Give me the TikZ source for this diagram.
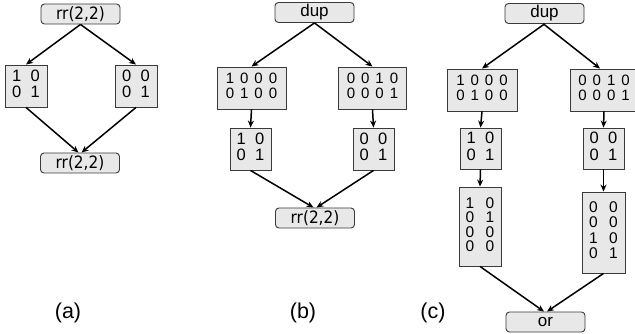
\documentclass[tikz,border=0pt]{standalone}
\usepackage{fontspec}
\setmainfont{Liberation Sans}
\newfontfamily\opfont{DejaVu Sans Condensed}
\usetikzlibrary{arrows.meta}
\definecolor{boxfill}{HTML}{E8E8E8}
\definecolor{boxline}{HTML}{3A3A3A}
\tikzset{
  opnode/.style={draw=boxline, line width=0.9pt, rounded corners=3.5pt, fill=boxfill,
    minimum width=79pt, minimum height=20pt, inner sep=0pt, font=\fontsize{17}{17}\selectfont},
  matnode/.style={draw=boxline, line width=0.9pt, fill=boxfill, inner sep=0pt},
  arr/.style={line width=1.5pt, -{Stealth[length=7pt,width=6pt]}},
  panlab/.style={font=\fontsize{21.5}{22}\selectfont, inner sep=0pt}
}
% 2x2 matrices
\newcommand{\mtwo}[1]{\fontsize{16.5}{16}\selectfont\begin{tabular}{@{}c@{\hspace{9.5pt}}c@{}}#1\end{tabular}}
% 2x4 matrices
\newcommand{\mfour}[1]{\fontsize{15}{14}\selectfont\begin{tabular}{@{}c@{\hspace{6pt}}c@{\hspace{6pt}}c@{\hspace{6pt}}c@{}}#1\end{tabular}}
% 4x2 matrices
\newcommand{\mtall}[2]{\fontsize{15.5}{#1}\selectfont\begin{tabular}{@{}c@{\hspace{11.5pt}}c@{}}#2\end{tabular}}
\begin{document}
\begin{tikzpicture}[x=1pt,y=-1pt]
\useasboundingbox (0,0) rectangle (635,334);
% ---------- (a)
\node[opnode] (a1) at (80.5,14) {\opfont rr(2,2)};
\node[matnode, minimum width=42pt, minimum height=42pt] (aL) at (26,86) {\mtwo{1 & 0\\0 & 1}};
\node[matnode, minimum width=42pt, minimum height=42pt] (aR) at (136,86) {\mtwo{0 & 0\\0 & 1}};
\node[opnode] (a2) at (80,163) {\opfont rr(2,2)};
\draw[arr] (a1.south) -- (aL.north);
\draw[arr] (a1.south) -- (aR.north);
\draw[arr] (aL.south) -- ([xshift=-1.5pt]a2.north);
\draw[arr] (aR.south) -- ([xshift=1.5pt]a2.north);
\node[panlab] (la) at (68,313) {(a)};
% ---------- (b)
\node[opnode] (b1) at (314.5,12.5) {dup};
\node[matnode, minimum width=69pt, minimum height=42pt] (bL1) at (251.5,88) {\mfour{1&0&0&0\\0&1&0&0}};
\node[matnode, minimum width=68pt, minimum height=42pt] (bR1) at (372.5,88) {\mfour{0&0&1&0\\0&0&0&1}};
\node[matnode, minimum width=41pt, minimum height=42pt] (bL2) at (250.5,149) {\mtwo{1 & 0\\0 & 1}};
\node[matnode, minimum width=41pt, minimum height=42pt] (bR2) at (373.5,149) {\mtwo{0 & 0\\0 & 1}};
\node[opnode] (b2) at (315,218) {\opfont rr(2,2)};
\draw[arr] (b1.south) -- (bL1.north);
\draw[arr] (b1.south) -- (bR1.north);
\draw[arr] (bL1.south) -- (bL2.north);
\draw[arr] (bR1.south) -- (bR2.north);
\draw[arr] (bL2.south) -- ([xshift=-1.5pt]b2.north);
\draw[arr] (bR2.south) -- ([xshift=1.5pt]b2.north);
\node[panlab] (lb) at (303,313) {(b)};
% ---------- (c)
\node[opnode] (c1) at (544.5,13.5) {dup};
\node[matnode, minimum width=70pt, minimum height=42pt] (cL1) at (482,90) {\mfour{1&0&0&0\\0&1&0&0}};
\node[matnode, minimum width=68pt, minimum height=42pt] (cR1) at (604,90) {\mfour{0&0&1&0\\0&0&0&1}};
\node[matnode, minimum width=41pt, minimum height=41pt] (cL2) at (480.5,148.5) {\mtwo{1 & 0\\0 & 1}};
\node[matnode, minimum width=41pt, minimum height=41pt] (cR2) at (603.5,148.5) {\mtwo{0 & 0\\0 & 1}};
\node[matnode, minimum width=42pt, minimum height=79pt] (cL3) at (480,226.5) {\raisebox{5pt}{\mtall{12}{1 & 0\\0 & 1\\0 & 0\\0 & 0}}};
\node[matnode, minimum width=43pt, minimum height=81pt] (cR3) at (603.5,232.5) {\mtall{15.5}{0 & 0\\0 & 0\\1 & 0\\0 & 1}};
\node[opnode] (c2) at (545.5,322) {or};
\draw[arr] (c1.south) -- (cL1.north);
\draw[arr] ([xshift=-1pt]c1.south) -- ([xshift=-4pt]cR1.north);
\draw[arr] (cL1.south) -- (cL2.north);
\draw[arr] (cR1.south) -- (cR2.north);
\draw[arr] (cL2.south) -- (cL3.north);
\draw[arr] (cR2.south) -- (cR3.north);
\draw[arr] (cL3.south) -- ([xshift=-1.5pt]c2.north);
\draw[arr] (cR3.south) -- ([xshift=1.5pt]c2.north);
\node[panlab] (lc) at (433,313) {(c)};
\end{tikzpicture}
\end{document}
